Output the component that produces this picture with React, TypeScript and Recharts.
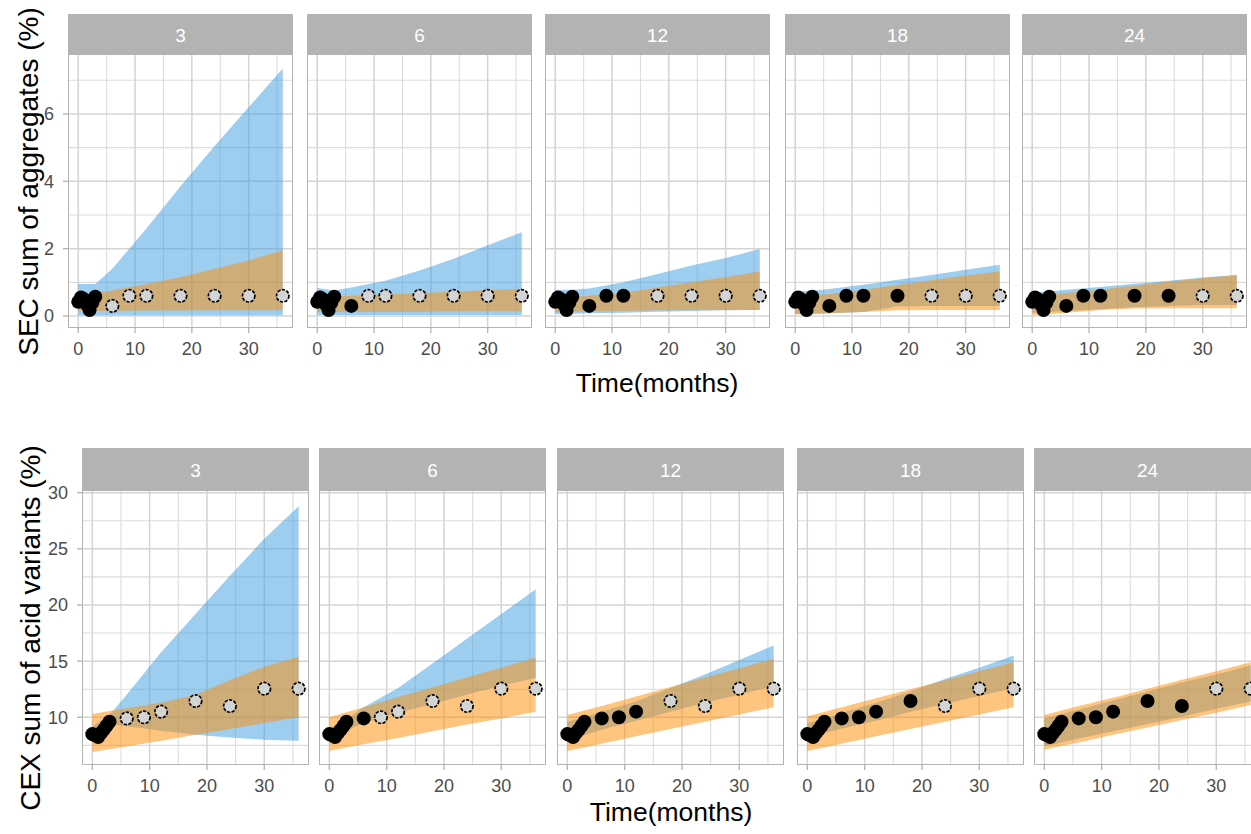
import React from "react";
import { ComposedChart, Area, Scatter, XAxis, YAxis, CartesianGrid } from "recharts";

// ---------------- data ----------------
const cutoffs = [3, 6, 12, 18, 24];
const months = [0, 0.5, 1, 1.5, 2, 2.5, 3, 6, 9, 12, 18, 24, 30, 36];
const secObserved = [0.42, 0.55, 0.5, 0.35, 0.18, 0.4, 0.57, 0.3, 0.6, 0.6, 0.6, 0.6, 0.6, 0.6];
const cexObserved = [8.5, 8.4, 8.25, 8.6, 8.9, 9.25, 9.6, 9.9, 10.0, 10.5, 11.45, 11.0, 12.55, 12.55];

const bandMonths = [0, 3, 6, 12, 18, 24, 30, 36];

// SEC bands, one row per cutoff (3, 6, 12, 18, 24)
const secBlueLow = [
  [0.02, 0.02, 0.02, 0.02, 0.02, 0.02, 0.02, 0.02],
  [0.03, 0.03, 0.03, 0.03, 0.03, 0.03, 0.03, 0.03],
  [0.06, 0.07, 0.08, 0.1, 0.13, 0.15, 0.17, 0.18],
  [0.06, 0.07, 0.08, 0.12, 0.28, 0.3, 0.3, 0.3],
  [0.1, 0.12, 0.15, 0.2, 0.26, 0.3, 0.33, 0.33],
];
const secBlueHigh = [
  [0.95, 0.95, 1.4, 2.6, 3.85, 5.05, 6.2, 7.35],
  [0.83, 0.76, 0.85, 1.05, 1.35, 1.7, 2.1, 2.49],
  [0.78, 0.78, 0.82, 1.0, 1.25, 1.5, 1.72, 1.99],
  [0.73, 0.75, 0.8, 0.93, 1.08, 1.22, 1.37, 1.52],
  [0.7, 0.73, 0.78, 0.86, 0.96, 1.05, 1.14, 1.22],
];
const secOrangeLow = [
  [0.15, 0.15, 0.15, 0.16, 0.16, 0.17, 0.17, 0.17],
  [0.12, 0.12, 0.12, 0.13, 0.13, 0.14, 0.14, 0.14],
  [0.12, 0.13, 0.14, 0.15, 0.17, 0.18, 0.18, 0.18],
  [0.05, 0.06, 0.08, 0.12, 0.17, 0.18, 0.18, 0.18],
  [0.03, 0.05, 0.1, 0.18, 0.22, 0.23, 0.23, 0.23],
];
const secOrangeHigh = [
  [0.6, 0.68, 0.76, 0.95, 1.15, 1.4, 1.65, 1.95],
  [0.55, 0.58, 0.6, 0.64, 0.68, 0.72, 0.77, 0.8],
  [0.54, 0.56, 0.6, 0.68, 0.85, 1.0, 1.15, 1.32],
  [0.58, 0.6, 0.65, 0.78, 0.92, 1.06, 1.2, 1.32],
  [0.6, 0.63, 0.68, 0.78, 0.9, 1.02, 1.12, 1.22],
];

// CEX bands
const cexBlueLow = [
  [8.3, 9.4, 9.2, 8.8, 8.45, 8.2, 8.0, 7.9],
  [8.2, 8.8, 9.5, 10.4, 11.2, 12.0, 12.8, 13.5],
  [8.0, 8.4, 8.9, 9.7, 10.5, 11.3, 12.0, 12.8],
  [8.2, 8.6, 9.0, 9.7, 10.5, 11.2, 11.9, 12.6],
  [7.4, 7.75, 8.1, 8.75, 9.4, 10.05, 10.75, 11.4],
];
const cexBlueHigh = [
  [9.2, 10.2, 12.0, 15.8, 19.2, 22.6, 25.9, 28.8],
  [9.0, 9.8, 10.9, 12.6, 14.8, 17.0, 19.2, 21.4],
  [9.6, 10.0, 10.5, 11.4, 12.6, 13.8, 15.1, 16.4],
  [9.5, 9.9, 10.4, 11.3, 12.3, 13.4, 14.4, 15.5],
  [9.9, 10.3, 10.7, 11.5, 12.3, 13.1, 13.8, 14.6],
];
const cexOrangeLow = [
  [6.9, 7.15, 7.4, 7.9, 8.45, 8.95, 9.5, 10.0],
  [7.0, 7.3, 7.6, 8.15, 8.75, 9.35, 9.9, 10.5],
  [7.0, 7.3, 7.65, 8.3, 8.95, 9.6, 10.25, 10.9],
  [7.0, 7.3, 7.65, 8.3, 8.95, 9.6, 10.25, 10.9],
  [7.1, 7.45, 7.75, 8.45, 9.1, 9.75, 10.4, 11.1],
];
const cexOrangeHigh = [
  [10.3, 10.55, 10.8, 11.3, 12.0, 13.3, 14.5, 15.4],
  [10.0, 10.45, 10.9, 11.8, 12.65, 13.55, 14.4, 15.3],
  [10.2, 10.6, 11.0, 11.85, 12.7, 13.55, 14.35, 15.2],
  [10.1, 10.5, 10.9, 11.7, 12.5, 13.3, 14.1, 14.9],
  [10.2, 10.6, 11.0, 11.75, 12.55, 13.35, 14.1, 14.9],
];

const xTicks = [0, 10, 20, 30];
const xMinorTicks = [5, 15, 25, 35];
const secTicks = [0, 2, 4, 6];
const secMinorTicks = [1, 3, 5, 7];
const cexTicks = [10, 15, 20, 25, 30];
const cexMinorTicks = [7.5, 12.5, 17.5, 22.5, 27.5];

const xTitle = "Time(months)";
const secTitle = "SEC sum of aggregates (%)";
const cexTitle = "CEX sum of acid variants (%)";

// ---------------- layout ----------------
const FONT = '"Liberation Sans", Arial, Helvetica, sans-serif';
const Y_GUTTER = 60;
const X_GUTTER = 40;
const TOP_PAD = 12;

const rows = [
  {
    stripTop: 14, plotTop: 54, plotH: 274, lefts: [68, 307, 545, 785, 1022], width: 225,
    yDomain: [-0.356, 7.78], yTicks: secTicks, yMinor: secMinorTicks, observed: secObserved,
    blueLow: secBlueLow, blueHigh: secBlueHigh, orangeLow: secOrangeLow, orangeHigh: secOrangeHigh,
  },
  {
    stripTop: 448, plotTop: 490, plotH: 275, lefts: [82, 319, 557, 797, 1034], width: 227,
    yDomain: [5.75, 30.24], yTicks: cexTicks, yMinor: cexMinorTicks, observed: cexObserved,
    blueLow: cexBlueLow, blueHigh: cexBlueHigh, orangeLow: cexOrangeLow, orangeHigh: cexOrangeHigh,
  },
];

const BlackDot = (props: any) => {
  const { cx, cy } = props;
  if (cx == null || cy == null) return null;
  return <circle cx={cx} cy={cy} r={7} fill="#000" />;
};
const GreyDot = (props: any) => {
  const { cx, cy } = props;
  if (cx == null || cy == null) return null;
  return (
    <circle cx={cx} cy={cy} r={6.2} fill="#d4d4d4" stroke="#000" strokeWidth={1.7} strokeDasharray="3.2 1.4" />
  );
};

function Panel({ row, i }: { row: any; i: number }) {
  const cutoff = cutoffs[i];
  const left = row.lefts[i];
  const showY = i === 0;
  const bandData = bandMonths.map((t, k) => ({
    t,
    blue: [row.blueLow[i][k], row.blueHigh[i][k]],
    orange: [row.orangeLow[i][k], row.orangeHigh[i][k]],
  }));
  const pts = months.map((t, k) => ({ t, v: row.observed[k] }));
  const fitted = pts.filter((p) => p.t <= cutoff);
  const future = pts.filter((p) => p.t > cutoff);
  const chartLeft = showY ? left - Y_GUTTER : left;
  const chartW = row.width + (showY ? Y_GUTTER : 0);
  return (
    <>
      <div
        style={{
          position: "absolute", left, top: row.stripTop, width: row.width,
          height: row.plotTop - row.stripTop, background: "#b3b3b3", color: "#ffffff",
          fontSize: 19, fontFamily: FONT, display: "flex", alignItems: "center",
          justifyContent: "center", paddingTop: 4, boxSizing: "border-box",
        }}
      >
        {cutoff}
      </div>
      <div style={{ position: "absolute", left: chartLeft, top: row.plotTop - TOP_PAD }}>
        <ComposedChart width={chartW} height={row.plotH + X_GUTTER + TOP_PAD} data={bandData} margin={{ top: TOP_PAD, right: 0, bottom: 0, left: 0 }}>
          <CartesianGrid verticalValues={xMinorTicks} horizontalValues={row.yMinor} stroke="#dcdcdc" strokeWidth={1.1} />
          <CartesianGrid verticalValues={xTicks} horizontalValues={row.yTicks} stroke="#d4d4d4" strokeWidth={1.5} />
          <XAxis
            type="number" dataKey="t" domain={[-1.8, 37.8]} ticks={xTicks} interval={0} allowDataOverflow
            height={X_GUTTER} axisLine={false} tickLine={{ stroke: "#b3b3b3", strokeWidth: 1.3 }}
            tickSize={5} tickMargin={9} tick={{ fill: "#4d4d4d", fontSize: 18, fontFamily: FONT }}
          />
          <YAxis
            type="number" domain={row.yDomain} ticks={row.yTicks} interval={0} allowDataOverflow
            hide={!showY} width={Y_GUTTER} axisLine={false} tickLine={{ stroke: "#b3b3b3", strokeWidth: 1.3 }}
            tickSize={5} tickMargin={9} tick={{ fill: "#4d4d4d", fontSize: 18, fontFamily: FONT }}
          />
          <Area type="linear" dataKey="blue" stroke="none" fill="#3c9ee1" fillOpacity={0.5} dot={false} activeDot={false} isAnimationActive={false} />
          <Area type="linear" dataKey="orange" stroke="none" fill="#ff8c00" fillOpacity={0.5} dot={false} activeDot={false} isAnimationActive={false} />
          <Scatter data={fitted} dataKey="v" shape={BlackDot} isAnimationActive={false} />
          <Scatter data={future} dataKey="v" shape={GreyDot} isAnimationActive={false} />
        </ComposedChart>
      </div>
      <div
        style={{
          position: "absolute", left, top: row.plotTop, width: row.width, height: row.plotH,
          border: "1px solid #b3b3b3", boxSizing: "border-box", pointerEvents: "none",
        }}
      />
    </>
  );
}

export default function App() {
  return (
    <div style={{ position: "absolute", left: 0, top: 0, width: 1251, height: 834, overflow: "hidden", background: "#fff", fontFamily: FONT }}>
      {rows.map((row, r) => cutoffs.map((c, i) => <Panel key={`${r}-${c}`} row={row} i={i} />))}
      <svg width={1251} height={834} style={{ position: "absolute", left: 0, top: 0, pointerEvents: "none" }}>
        <text x={657} y={392} textAnchor="middle" fontSize={26.5} fontFamily={FONT} fill="#000">{xTitle}</text>
        <text x={671} y={821} textAnchor="middle" fontSize={26.5} fontFamily={FONT} fill="#000">{xTitle}</text>
        <text transform="translate(38,181.5) rotate(-90)" textAnchor="middle" fontSize={28} fontFamily={FONT} fill="#000">{secTitle}</text>
        <text transform="translate(40,628) rotate(-90)" textAnchor="middle" fontSize={28} fontFamily={FONT} fill="#000">{cexTitle}</text>
      </svg>
    </div>
  );
}
